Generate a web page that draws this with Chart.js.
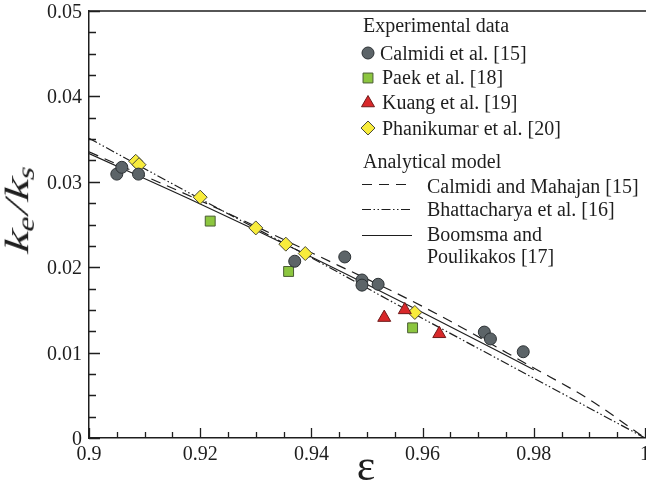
<!DOCTYPE html>
<html>
<head>
<meta charset="utf-8">
<script src="https://cdn.jsdelivr.net/npm/chart.js@4.4.1/dist/chart.umd.min.js"></script>
<style>
  html, body { margin: 0; padding: 0; background: #fff; overflow: hidden; }
  #wrap { width: 646px; height: 494px; position: relative; overflow: hidden; }
  #wrap canvas { position: absolute; left: 0; top: 0; }
  .t { position: absolute; white-space: nowrap; font-family: "Liberation Serif", "Times New Roman", serif;
       font-size: 20px; line-height: 20px; color: #1e1e1e; }
  .ytitle { font-size: 34px; line-height: 34px; }
  .ytitle .sub { font-size: 23px; position: relative; top: 6px; }
</style>
</head>
<body>
<div id="wrap"><canvas id="chart" width="646" height="494"></canvas></div>
<script>
const calmidiEps = [0.905, 0.9059, 0.9089, 0.937, 0.946, 0.9491, 0.9491, 0.952, 0.9711, 0.9722, 0.9781];
const calmidiK   = [0.0309, 0.0317, 0.0309, 0.0207, 0.0212, 0.0185, 0.0179, 0.0180, 0.0124, 0.0116, 0.0101];
const paekEps = [0.9218, 0.9359, 0.9582];
const paekK   = [0.0254, 0.0195, 0.0129];
const kuangEps = [0.9531, 0.9568, 0.9630];
const kuangK   = [0.0141, 0.0150, 0.0122];
const phaniEps = [0.9084, 0.9090, 0.9200, 0.9300, 0.9354, 0.9389, 0.9586];
const phaniK   = [0.0324, 0.0320, 0.0282, 0.0246, 0.0227, 0.0216, 0.0147];

// analytical models
const calMahEps = [0.90, 0.92, 0.94, 0.96, 0.98, 0.99, 1.0];
const calMahK   = [0.0335, 0.0278, 0.0217, 0.0154, 0.0082, 0.0045, 0];
const bhattEps = [0.90, 0.92, 0.94, 0.96, 0.98, 1.0];
const bhattK   = [0.0351, 0.0280, 0.0211, 0.0140, 0.0070, 0];
const boomEps = [0.90, 0.92, 0.94, 0.96, 0.98];
const boomK   = [0.0333, 0.0274, 0.0212, 0.0147, 0.0080];

const xTicks = [0.9, 0.92, 0.94, 0.96, 0.98, 1.0];
const xTickLabels = ['0.9', '0.92', '0.94', '0.96', '0.98', '1'];
const yTicks = [0, 0.01, 0.02, 0.03, 0.04, 0.05];
const yTickLabels = ['0', '0.01', '0.02', '0.03', '0.04', '0.05'];

const expTitle = 'Experimental data';
const expLabels = ['Calmidi et al. [15]', 'Paek et al. [18]', 'Kuang et al. [19]', 'Phanikumar et al. [20]'];
const modelTitle = 'Analytical model';
const modelLabels = ['Calmidi and Mahajan [15]', 'Bhattacharya et al. [16]', 'Boomsma and', 'Poulikakos [17]'];

const INK = '#1e1e1e';
const pts = (xs, ys) => xs.map((x, i) => ({ x: x, y: ys[i] }));

const marker = {
  circle:   { style: 'circle',   r: 6,   fill: '#5c6468', stroke: '#2c3134' },
  rect:     { style: 'rect',     r: 7,   fill: '#8cc63f', stroke: '#4a5c34' },
  triangle: { style: 'triangle', r: 7.5, fill: '#d9282a', stroke: '#6e1a1a' },
  rectRot:  { style: 'rectRot',  r: 7,   fill: '#f8ec3c', stroke: '#4a4a3a' }
};
const dashed = [10, 7];
const dashDot = [9, 2.5, 1.5, 2.5, 1.5, 2.5];

function pointSet(label, data, m) {
  return {
    label: label, data: data, showLine: false,
    pointStyle: m.style, pointRadius: m.r, pointHoverRadius: m.r,
    backgroundColor: m.fill, borderColor: m.stroke, pointBorderWidth: 1
  };
}
function lineSet(label, data, dash) {
  return {
    label: label, data: data, showLine: true, pointRadius: 0,
    borderColor: INK, borderWidth: 1.2, borderDash: dash,
    cubicInterpolationMode: 'monotone', fill: false
  };
}

function drawShape(ctx, m, x, y) {
  const r = m.r;
  ctx.save();
  ctx.fillStyle = m.fill;
  ctx.strokeStyle = m.stroke;
  ctx.lineWidth = 1;
  ctx.beginPath();
  if (m.style === 'circle') {
    ctx.arc(x, y, r, 0, Math.PI * 2);
  } else if (m.style === 'rect') {
    const s = r * Math.SQRT1_2;
    ctx.rect(x - s, y - s, 2 * s, 2 * s);
  } else if (m.style === 'triangle') {
    ctx.moveTo(x, y - r);
    ctx.lineTo(x + r * 0.866, y + r / 2);
    ctx.lineTo(x - r * 0.866, y + r / 2);
    ctx.closePath();
  } else {
    ctx.moveTo(x - r, y); ctx.lineTo(x, y - r); ctx.lineTo(x + r, y); ctx.lineTo(x, y + r);
    ctx.closePath();
  }
  ctx.fill();
  ctx.stroke();
  ctx.restore();
}

// inward ticks, top frame line, legend symbols (canvas part)
const decor = {
  id: 'decor',
  afterDraw(chart) {
    const ctx = chart.ctx;
    const a = chart.chartArea;
    const xs = chart.scales.x, ys = chart.scales.y;
    ctx.save();
    ctx.strokeStyle = INK;
    ctx.lineWidth = 1.3;
    ctx.beginPath();
    for (let i = 0; i <= 20; i++) {
      const px = Math.round(xs.getPixelForValue(0.9 + i * 0.005)) + 0.5;
      const len = i % 4 === 0 ? 10 : 6;
      ctx.moveTo(px, a.bottom); ctx.lineTo(px, a.bottom - len);
    }
    for (let i = 0; i <= 20; i++) {
      const py = Math.round(ys.getPixelForValue(i * 0.0025)) + 0.5;
      const len = i % 4 === 0 ? 11 : 7;
      ctx.moveTo(a.left, py); ctx.lineTo(a.left + len, py);
    }
    ctx.stroke();
    ctx.lineWidth = 1.5;
    ctx.beginPath();
    ctx.moveTo(a.left, a.top); ctx.lineTo(chart.width, a.top);
    ctx.stroke();

    const mk = [marker.circle, marker.rect, marker.triangle, marker.rectRot];
    const mkY = [53, 78, 103, 128];
    mk.forEach((m, i) => drawShape(ctx, m, 368, mkY[i]));
    const lineY = [184.5, 209.5, 235.5];
    ctx.lineWidth = 1.2;
    [dashed, dashDot, []].forEach((d, i) => {
      ctx.setLineDash(d);
      ctx.beginPath();
      ctx.moveTo(362, lineY[i]); ctx.lineTo(412, lineY[i]);
      ctx.stroke();
    });
    ctx.restore();
  }
};

const chart = new Chart(document.getElementById('chart'), {
  type: 'scatter',
  data: {
    datasets: [
      pointSet(expLabels[0], pts(calmidiEps, calmidiK), marker.circle),
      pointSet(expLabels[1], pts(paekEps, paekK), marker.rect),
      pointSet(expLabels[2], pts(kuangEps, kuangK), marker.triangle),
      pointSet(expLabels[3], pts(phaniEps, phaniK), marker.rectRot),
      lineSet(modelLabels[0], pts(calMahEps, calMahK), dashed),
      lineSet(modelLabels[1], pts(bhattEps, bhattK), dashDot),
      lineSet(modelLabels[2] + ' ' + modelLabels[3], pts(boomEps, boomK), [])
    ]
  },
  options: {
    responsive: false,
    animation: false,
    events: [],
    layout: { autoPadding: false, padding: { top: 11, right: 1, left: 0, bottom: 0 } },
    plugins: { legend: { display: false }, tooltip: { enabled: false } },
    scales: {
      x: {
        type: 'linear', min: 0.9, max: 1.0,
        afterFit: s => { s.height = 56; },
        ticks: { display: false },
        grid: { display: false, drawTicks: false },
        border: { display: true, color: INK, width: 1.5 }
      },
      y: {
        type: 'linear', min: 0, max: 0.05,
        afterFit: s => { s.width = 89; },
        ticks: { display: false },
        grid: { display: false, drawTicks: false },
        border: { display: true, color: INK, width: 1.5 }
      }
    }
  },
  plugins: [decor]
});

// text as html on top of the canvas (serif fonts)
const wrap = document.getElementById('wrap');
function addText(html, css) {
  const el = document.createElement('div');
  el.className = 't';
  el.innerHTML = html;
  Object.assign(el.style, css);
  wrap.appendChild(el);
  return el;
}
const BASE = 16.75; // baseline offset of 20px Liberation Serif in a 20px line box

xTicks.forEach((v, i) => {
  addText(xTickLabels[i], { left: chart.scales.x.getPixelForValue(v) + 'px', top: '442.5px', transform: 'translateX(-50%)' });
});
yTicks.forEach((v, i) => {
  addText(yTickLabels[i], { right: (646 - 82) + 'px', top: (chart.scales.y.getPixelForValue(v) - 10) + 'px' });
});

addText('ε', { left: '366px', top: '444px', fontSize: '44px', lineHeight: '44px', transform: 'translateX(-50%)' });

// regular serif face slanted by hand, the italic face here is not a serif one
const yt = addText('k<span class="sub">e</span>/k<span class="sub">s</span>', { left: '19px', top: '208px' });
yt.classList.add('ytitle');
yt.style.transform = 'translate(-50%, -50%) rotate(-90deg) scaleX(1.42) skewX(-14deg)';

addText(expTitle, { left: '363px', top: (32 - BASE) + 'px' });
const rowY = [60, 84, 109, 135];
expLabels.forEach((t, i) => addText(t, { left: (i === 0 ? 380 : 382) + 'px', top: (rowY[i] - BASE) + 'px' }));
addText(modelTitle, { left: '363px', top: (168 - BASE) + 'px' });
const textY = [193, 216, 241, 263];
modelLabels.forEach((t, i) => addText(t, { left: '427px', top: (textY[i] - BASE) + 'px' }));
</script>
</body>
</html>
